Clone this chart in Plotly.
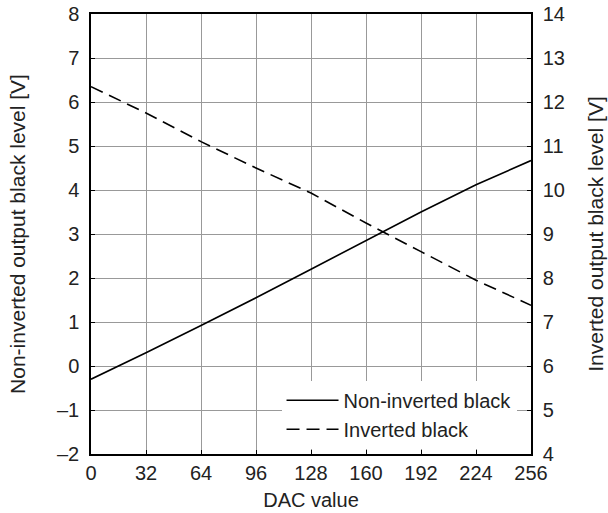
import plotly.graph_objects as go

dac = [0, 32, 64, 96, 128, 160, 192, 224, 256]
non_inverted = [-0.30, 0.30, 0.92, 1.55, 2.20, 2.85, 3.50, 4.12, 4.67]
inverted = [12.35, 11.75, 11.10, 10.50, 9.93, 9.25, 8.60, 7.95, 7.38]
x_ticks = [0, 32, 64, 96, 128, 160, 192, 224, 256]
left_ticks = [-2, -1, 0, 1, 2, 3, 4, 5, 6, 7, 8]
left_labels = ["–2", "–1", "0", "1", "2", "3", "4", "5", "6", "7", "8"]
right_ticks = [4, 5, 6, 7, 8, 9, 10, 11, 12, 13, 14]

FONT = "Liberation Sans, Arial, sans-serif"
FS = 20
fig = go.Figure()
fig.add_trace(go.Scatter(x=dac, y=non_inverted, mode="lines", name="Non-inverted black",
                         line=dict(color="black", width=1.6), legendgroup="a"))
fig.add_trace(go.Scatter(x=dac, y=inverted, mode="lines", name="Inverted black", yaxis="y2",
                         line=dict(color="black", width=1.6, dash="13px,7px"), legendgroup="b"))

axis_common = dict(showline=True, linecolor="black", linewidth=1.5, ticks="inside", ticklen=4,
                   tickcolor="black", tickfont=dict(size=FS, color="#222"), zeroline=False,
                   automargin=False)

fig.update_layout(
    width=608, height=513,
    margin=dict(l=91, r=77, t=14, b=59),
    paper_bgcolor="white", plot_bgcolor="white",
    font=dict(family=FONT, color="#222"),
    showlegend=True,
    legend=dict(x=0.433, xanchor="left", y=0.012, yanchor="bottom", bgcolor="white",
                borderwidth=0, font=dict(size=FS), itemwidth=52, tracegroupgap=0),
    xaxis=dict(range=[0, 256], tickvals=x_ticks, showgrid=True, gridcolor="#999", gridwidth=1,
               mirror=True, title=dict(text="DAC value", font=dict(size=FS), standoff=10),
               **axis_common),
    yaxis=dict(range=[-2, 8], tickvals=left_ticks, ticktext=left_labels, showgrid=True,
               gridcolor="#999", gridwidth=1, ticklabelstandoff=6,
               title=dict(text="Non-inverted output black level [V]", font=dict(size=21), standoff=26),
               **axis_common),
    yaxis2=dict(range=[4, 14], tickvals=right_ticks, overlaying="y", side="right", showgrid=False,
                ticklabelstandoff=6,
                title=dict(text="Inverted output black level [V]", font=dict(size=21), standoff=24),
                **axis_common),
)
fig.write_html("out.html", config={"displayModeBar": False},
               post_script="document.body.style.margin='0';")
